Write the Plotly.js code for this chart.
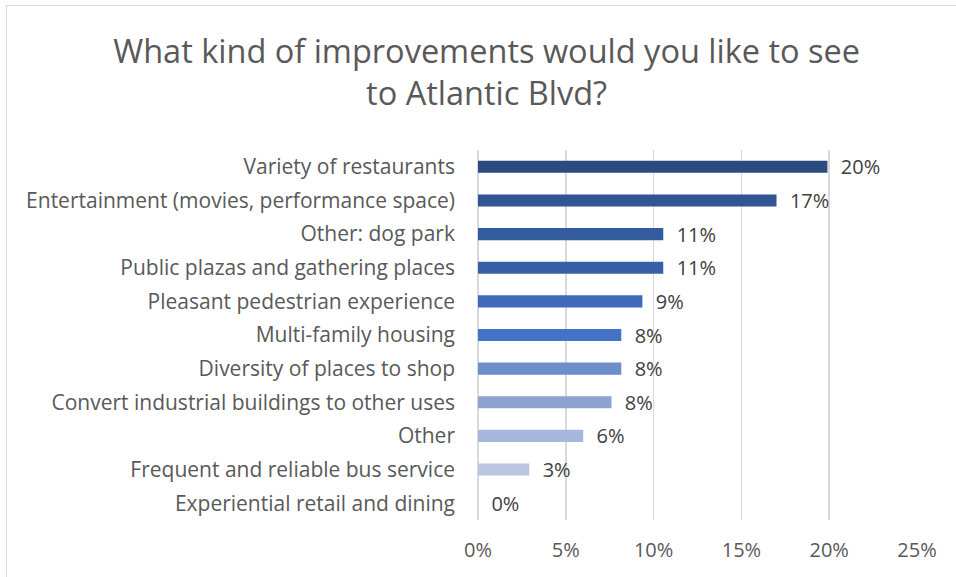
<!DOCTYPE html>
<html>
<head>
<meta charset="utf-8">
<script src="https://cdn.plot.ly/plotly-3.0.1.min.js"></script>
<style>
  html, body { margin: 0; padding: 0; background: #ffffff; }
  #chart { width: 956px; height: 577px; position: relative; }
  #frame { position: absolute; left: 6px; top: 5px; width: 1000px; height: 1000px;
           border-left: 1.5px solid #d9d9d9; border-top: 1.5px solid #d9d9d9; pointer-events: none; }
</style>
</head>
<body>
<div id="chart"></div>
<div id="frame"></div>
<script>
const categories = [
  "Variety of restaurants",
  "Entertainment (movies, performance space)",
  "Other: dog park",
  "Public plazas and gathering places",
  "Pleasant pedestrian experience",
  "Multi-family housing",
  "Diversity of places to shop",
  "Convert industrial buildings to other uses",
  "Other",
  "Frequent and reliable bus service",
  "Experiential retail and dining"
];
const shares = [0.199, 0.170, 0.1055, 0.1055, 0.0936, 0.0816, 0.0816, 0.0760, 0.0599, 0.0292, 0];
const barColors = ["#2b4a80", "#2f5592", "#335c9e", "#3760a8", "#3d69b8", "#4472c4",
                   "#6e8dcb", "#8da3d2", "#a7b6db", "#bcc6e4", "#d0d8ee"];
const xTickVals = [0, 0.05, 0.10, 0.15, 0.20, 0.25];

const fontFam = "'Open Sans', sans-serif";

const trace = {
  type: "bar",
  orientation: "h",
  y: categories,
  x: shares,
  marker: { color: barColors },
  texttemplate: "\u00a0\u00a0%{x:.0%}",
  textposition: "outside",
  constraintext: "none",
  cliponaxis: false,
  textfont: { family: fontFam, size: 20, color: "#404040" },
  hoverinfo: "none"
};

const layout = {
  width: 956,
  height: 577,
  margin: { l: 478, r: 39, t: 150, b: 57, pad: 0 },
  paper_bgcolor: "#ffffff",
  plot_bgcolor: "#ffffff",
  showlegend: false,
  bargap: 0.64,
  title: {
    text: "What kind of improvements would you like to see<br>to Atlantic Blvd?",
    font: { family: fontFam, size: 32.5, color: "#595959" },
    x: 0.509, xref: "container", xanchor: "center",
    y: 0.891, yref: "container", yanchor: "middle"
  },
  xaxis: {
    range: [0, 0.25],
    tickvals: xTickVals,
    tickformat: ".0%",
    showgrid: true,
    gridcolor: "#d9d9d9",
    gridwidth: 1.5,
    zeroline: true,
    zerolinecolor: "#d9d9d9",
    zerolinewidth: 1.5,
    showline: false,
    ticks: "",
    ticklabelstandoff: 16,
    tickfont: { family: fontFam, size: 20, color: "#595959" },
    fixedrange: true
  },
  yaxis: {
    autorange: "reversed",
    showgrid: false,
    zeroline: false,
    showline: false,
    ticks: "",
    ticklabelstandoff: 22,
    tickfont: { family: fontFam, size: 21, color: "#595959" },
    fixedrange: true
  }
};

Plotly.newPlot("chart", [trace], layout, { displayModeBar: false, staticPlot: true });
</script>
</body>
</html>
